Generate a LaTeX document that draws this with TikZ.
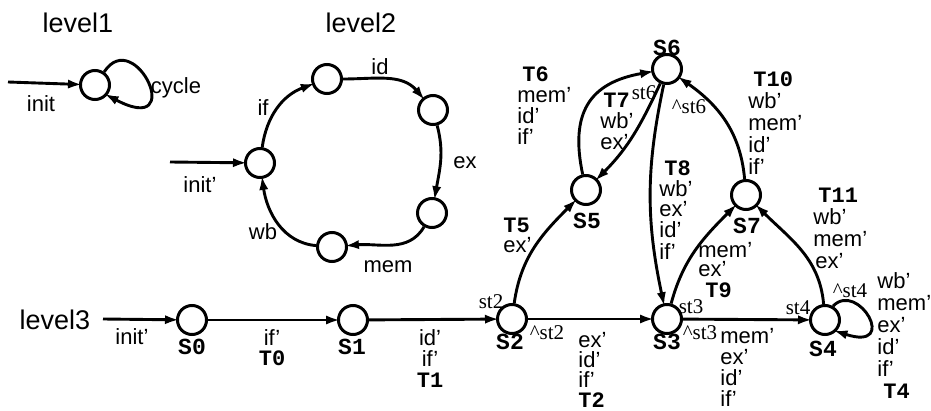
\documentclass[tikz,border=0pt]{standalone}
\usepackage{fontspec}
\setmainfont{Liberation Sans}
\newfontfamily\monof{Liberation Mono}
\newfontfamily\seriff{Liberation Serif}
\usetikzlibrary{arrows.meta}
\newcommand\tlab[1]{{\monof\bfseries #1}}
\tikzset{
  st/.style={circle, draw, line width=1.5pt, minimum size=14.5pt, inner sep=0pt},
  ed/.style={line width=1.45pt, -{Latex[length=7pt,width=4.6pt]}, shorten >=-1.5pt},
  lab/.style={font=\fontsize{11}{10.5}\selectfont, inner sep=0pt},
  ttl/.style={font=\fontsize{13.5}{14}\selectfont, inner sep=0pt},
  sn/.style={font=\monof\bfseries\fontsize{11.5}{12}\selectfont, inner sep=0pt},
  sm/.style={font=\seriff\fontsize{10.5}{11}\selectfont, inner sep=0pt},
}
\begin{document}
\begin{tikzpicture}[x=0.5pt,y=-0.5pt]
\useasboundingbox[fill=white] (0,0) rectangle (931,411);
% ---------- level1
\node[ttl] (t1) at (78,23) {level1};
\node[st] (L1) at (95,85) {};
\coordinate (i1) at (8,82);
\draw[ed] (i1) -- (L1);
\node[lab] (linit) at (41,104) {init};
\draw[ed] (L1.55) .. controls (135,25) and (188,138) .. (L1.-40);
\node[lab] (lcyc) at (176,88) {cycle};
% ---------- level2
\node[ttl] (t2) at (361,23) {level2};
\node[st] (A) at (260,163) {};
\node[st] (B) at (327,79) {};
\node[st] (C) at (433,110) {};
\node[st] (D) at (432,213) {};
\node[st] (E) at (332,247) {};
\coordinate (i2) at (170,162);
\draw[ed] (i2) -- (A);
\node[lab] (linit2) at (200,185) {init'};
\draw[ed] (A) to[out=82,in=200] (B);
\draw[ed] (B) to[out=0,in=130] (C);
\draw[ed] (C) to[out=-75,in=80] (D);
\draw[ed] (D) to[out=-120,in=5] (E);
\draw[ed] (E) to[out=175,in=-82] (A);
\node[lab] (lif) at (263,108) {if};
\node[lab] (lid) at (380,67) {id};
\node[lab] (lex) at (465,163) {ex};
\node[lab] (lmem) at (388,267) {mem};
\node[lab] (lwb) at (263,232) {wb};
% ---------- level3
\node[ttl] (t3) at (55,320) {level3};
\node[st] (S0) at (192,320) {};
\node[st] (S1) at (353,320) {};
\node[st] (S2) at (512,319) {};
\node[st] (S3) at (667,319) {};
\node[st] (S4) at (825,320) {};
\node[st] (S5) at (586,190) {};
\node[st] (S6) at (667,69) {};
\node[st] (S7) at (746,195) {};
\node[sn] (n0) at (192,347) {S0};
\node[sn] (n1) at (352,347) {S1};
\node[sn] (n2) at (510,342) {S2};
\node[sn] (n3) at (667,342) {S3};
\node[sn] (n4) at (823,349) {S4};
\node[sn] (n5) at (587,221) {S5};
\node[sn] (n6) at (667,48) {S6};
\node[sn] (n7) at (747,226) {S7};
\coordinate (i3) at (103,319);
\draw[ed] (i3) -- (S0);
\node[lab] (linit3) at (132,337) {init'};
\draw[ed] (S0) -- (S1);
\draw[ed] (S1) -- (S2);
\draw[ed] (S2) -- (S3);
\draw[ed] (S3) -- (S4);
\draw[ed] (S2) to[out=82,in=225] (S5);
\draw[ed] (S5) to[out=102,in=190,looseness=1.3] (S6);
\draw[ed] (S6) to[out=245,in=45] (S5);
\draw[ed] (S6) to[out=258,in=102] (S3);
\draw[ed] (S3) to[out=75,in=225] (S7);
\draw[ed] (S7) to[out=95,in=-35] (S6);
\draw[ed] (S4) to[out=95,in=-45] (S7);
\draw[ed] (S4.60) .. controls (858,280) and (900,352) .. (S4.-45);
% small serif labels
\node[sm] (st2) at (491,302) {st2};
\node[sm] (nst2) at (547,333) {\textasciicircum st2};
\node[sm] (st3) at (691,307) {st3};
\node[sm] (nst3) at (700,333) {\textasciicircum st3};
\node[sm] (st4) at (798,308) {st4};
\node[sm] (nst4) at (850,291) {\textasciicircum st4};
\node[sm] (st6) at (644,93) {st6};
\node[sm] (nst6) at (689,107) {\textasciicircum st6};
% edge label blocks (anchor = baseline of last line)
\node[lab, align=center, anchor=base, font=\fontsize{11}{10}\selectfont] (b0) at (272,365) {if'\\\tlab{T0}};
\node[lab, align=center, anchor=base] (b1) at (430,387) {id'\\if'\\\tlab{T1}};
\node[lab, align=left, anchor=base west, font=\fontsize{11}{10}\selectfont] (b2) at (578,407) {ex'\\id'\\if'\\\tlab{T2}};
\node[lab, align=left, anchor=base west] (b3) at (720,406) {mem'\\ex'\\id'\\if'};
\node[lab, align=left, anchor=base west, font=\fontsize{11}{11}\selectfont] (b4) at (877,398) {wb'\\mem'\\ex'\\id'\\if'\\\hspace*{3pt}\tlab{T4}};
\node[lab, align=left, anchor=base west, font=\fontsize{11}{10}\selectfont] (b5) at (503,253) {\tlab{T5}\\ex'};
\node[lab, align=left, anchor=base west] (b6) at (517,145) {\hspace*{2.5pt}\tlab{T6}\\mem'\\id'\\if'};
\node[lab, align=left, anchor=base west] (b7) at (600,150) {\hspace*{1.5pt}\tlab{T7}\\wb'\\ex'};
\node[lab, align=left, anchor=base west] (b8) at (659,259) {\hspace*{2.5pt}\tlab{T8}\\wb'\\ex'\\id'\\if'};
\node[lab, align=left, anchor=base west, font=\fontsize{11}{11}\selectfont] (b10) at (748,175) {\hspace*{2.5pt}\tlab{T10}\\wb'\\mem'\\id'\\if'};
\node[lab, align=left, anchor=base west, font=\fontsize{11}{11}\selectfont] (b11) at (813,269) {\hspace*{2.5pt}\tlab{T11}\\wb'\\mem'\\\hspace*{1pt}ex'};
\node[lab, align=left, anchor=base west, font=\fontsize{11}{10}\selectfont] (b9) at (698,297) {mem'\\ex'\\\hspace*{3.5pt}\tlab{T9}};
\end{tikzpicture}
\end{document}
